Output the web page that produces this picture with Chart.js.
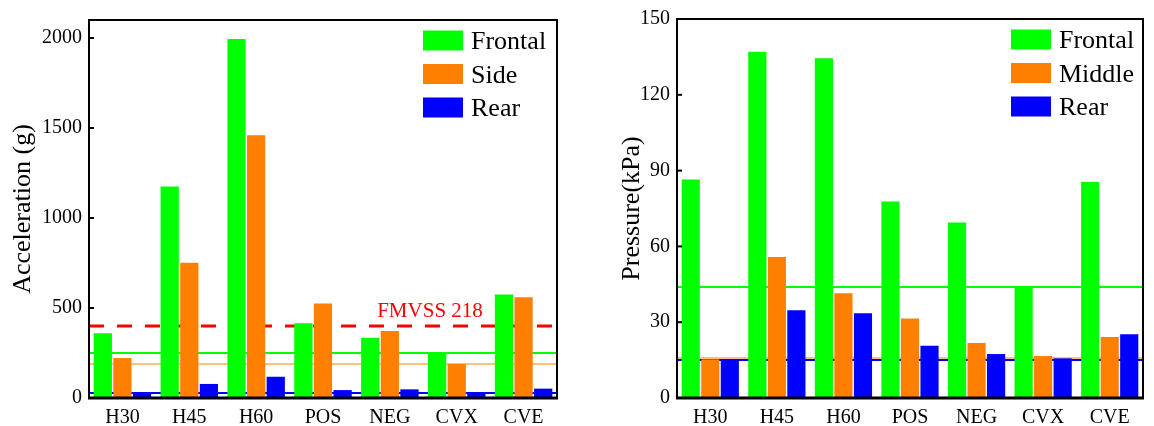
<!DOCTYPE html>
<html>
<head>
<meta charset="utf-8">
<script src="https://cdn.jsdelivr.net/npm/chart.js@4.4.1/dist/chart.umd.min.js"></script>
<style>
  html, body { margin: 0; padding: 0; background: #fff; }
  body { width: 1154px; height: 426px; position: relative; overflow: hidden; }
  .box { position: absolute; top: 0; height: 426px; }
  #left { left: 0; width: 580px; }
  #right { left: 600px; width: 554px; }
</style>
</head>
<body>
<div class="box" id="left"><canvas id="accChart"></canvas></div>
<div class="box" id="right"><canvas id="presChart"></canvas></div>
<script>
// categories shared by both panels
const categories = ['H30', 'H45', 'H60', 'POS', 'NEG', 'CVX', 'CVE'];

// left panel: acceleration (g)
const accFrontal = [360, 1175, 1995, 415, 335, 252, 575];
const accSide = [222, 752, 1460, 525, 372, 189, 560];
const accRear = [30, 78, 118, 44, 48, 30, 52];
const accLimit = 400;                 // FMVSS 218
const accRefLines = [252, 187, 27];   // frontal, side, rear reference levels
const accTicks = [0, 500, 1000, 1500, 2000];

// right panel: pressure (kPa)
const presFrontal = [86.5, 137, 134.5, 77.8, 69.5, 44.2, 85.5];
const presMiddle = [15.3, 55.8, 41.5, 31.5, 21.8, 16.6, 24.1];
const presRear = [15, 34.7, 33.5, 20.7, 17.4, 15.7, 25.2];
const presRefLines = [44, 15.8, 15];
const presTicks = [0, 30, 60, 90, 120, 150];

const GREEN = '#00ff00';
const ORANGE = '#ff8000';
const BLUE = '#0000ff';
const RED = '#ff0000';
const SERIF = '"Liberation Serif", "Times New Roman", serif';

const barDefaults = {
    categoryPercentage: 0.88,
    barPercentage: 0.93,
    borderWidth: 0
};

// reference lines and limit line sit behind the bars;
// frame, inward y ticks and legend go on top
const decorPlugin = {
    id: 'decor',
    beforeDatasetsDraw(chart, args, opts) {
        const ctx = chart.ctx;
        const area = chart.chartArea;
        const y = chart.scales.y;
        const colors = [GREEN, ORANGE, BLUE];
        const widths = [2, 1.2, 2];

        ctx.save();
        (opts.refLines || []).forEach((v, i) => {
            const py = Math.round(y.getPixelForValue(v));
            ctx.strokeStyle = colors[i];
            ctx.lineWidth = widths[i];
            ctx.beginPath();
            ctx.moveTo(area.left, py);
            ctx.lineTo(area.right, py);
            ctx.stroke();
        });

        if (opts.limit !== undefined) {
            const py = y.getPixelForValue(opts.limit);
            ctx.strokeStyle = RED;
            ctx.lineWidth = 3;
            ctx.setLineDash([15, 13]);
            ctx.beginPath();
            ctx.moveTo(area.left, py);
            ctx.lineTo(area.right - 3, py);
            ctx.stroke();
            ctx.setLineDash([]);
            ctx.fillStyle = RED;
            ctx.font = '21px ' + SERIF;
            ctx.textAlign = 'center';
            ctx.textBaseline = 'alphabetic';
            ctx.fillText(opts.limitLabel, area.right - 127, py - 9);
        }
        ctx.restore();
    },
    afterDatasetsDraw(chart, args, opts) {
        const ctx = chart.ctx;
        const area = chart.chartArea;
        const y = chart.scales.y;

        ctx.save();
        // frame
        ctx.strokeStyle = '#000';
        ctx.lineWidth = 2;
        ctx.strokeRect(area.left, area.top, area.right - area.left, area.bottom - area.top);
        ctx.lineWidth = 3;
        ctx.beginPath();
        ctx.moveTo(area.left - 1, area.bottom);
        ctx.lineTo(area.right + 1, area.bottom);
        ctx.stroke();

        // inward tick marks on the y axis
        ctx.lineWidth = 2;
        y.ticks.forEach(t => {
            const py = y.getPixelForValue(t.value);
            ctx.beginPath();
            ctx.moveTo(area.left, py);
            ctx.lineTo(area.left + 5, py);
            ctx.stroke();
        });

        // legend
        const lx = area.right - opts.legendRight;
        chart.data.datasets.forEach((ds, i) => {
            const top = area.top + 10.5 + i * 33.5;
            ctx.fillStyle = ds.backgroundColor;
            ctx.fillRect(lx, top, 40, 20);
            ctx.fillStyle = '#000';
            ctx.font = '26px ' + SERIF;
            ctx.textAlign = 'left';
            ctx.textBaseline = 'alphabetic';
            ctx.fillText(ds.label, lx + 48, top + 10 + 8.6);
        });
        ctx.restore();
    }
};

const makeChart = (canvasId, cfg) => {
    return new Chart(document.getElementById(canvasId).getContext('2d'), {
        type: 'bar',
        data: {
            labels: categories,
            datasets: cfg.series.map(s => Object.assign({
                label: s.label,
                data: s.data,
                backgroundColor: s.color
            }, barDefaults))
        },
        options: {
            responsive: true,
            maintainAspectRatio: false,
            animation: false,
            layout: { padding: { top: cfg.top, right: cfg.right, left: 0, bottom: 0 } },
            plugins: {
                legend: { display: false },
                tooltip: { enabled: false },
                decor: cfg.decor
            },
            scales: {
                x: {
                    grid: { display: false, drawTicks: false },
                    border: { display: false },
                    ticks: { color: '#000', font: { family: SERIF, size: 20 }, padding: 8 },
                    afterFit: (scale) => { scale.height = 28; }
                },
                y: {
                    min: 0,
                    max: cfg.max,
                    grid: { display: false, drawTicks: false },
                    border: { display: false },
                    ticks: {
                        color: '#000',
                        font: { family: SERIF, size: 20 },
                        padding: 7,
                        stepSize: cfg.step,
                        callback: (v) => String(v)
                    },
                    afterBuildTicks: (scale) => {
                        scale.ticks = cfg.ticks.map(v => ({ value: v }));
                    },
                    title: {
                        display: true,
                        text: cfg.title,
                        color: '#000',
                        font: { family: SERIF, size: 26 },
                        padding: { top: cfg.titlePad, bottom: 0 }
                    },
                    afterFit: (scale) => { scale.width = cfg.yWidth; }
                }
            }
        },
        plugins: [decorPlugin]
    });
};

makeChart('accChart', {
    series: [
        { label: 'Frontal', data: accFrontal, color: GREEN },
        { label: 'Side', data: accSide, color: ORANGE },
        { label: 'Rear', data: accRear, color: BLUE }
    ],
    max: 2100,
    step: 500,
    ticks: accTicks,
    title: 'Acceleration (g)',
    titlePad: 8,
    yWidth: 89,
    top: 20,
    right: 23,
    decor: { refLines: accRefLines, limit: accLimit, limitLabel: 'FMVSS 218', legendRight: 134 }
});

makeChart('presChart', {
    series: [
        { label: 'Frontal', data: presFrontal, color: GREEN },
        { label: 'Middle', data: presMiddle, color: ORANGE },
        { label: 'Rear', data: presRear, color: BLUE }
    ],
    max: 150,
    step: 30,
    ticks: presTicks,
    title: 'Pressure(kPa)',
    titlePad: 17,
    yWidth: 77,
    top: 19,
    right: 11,
    decor: { refLines: presRefLines, legendRight: 132 }
});
</script>
</body>
</html>
